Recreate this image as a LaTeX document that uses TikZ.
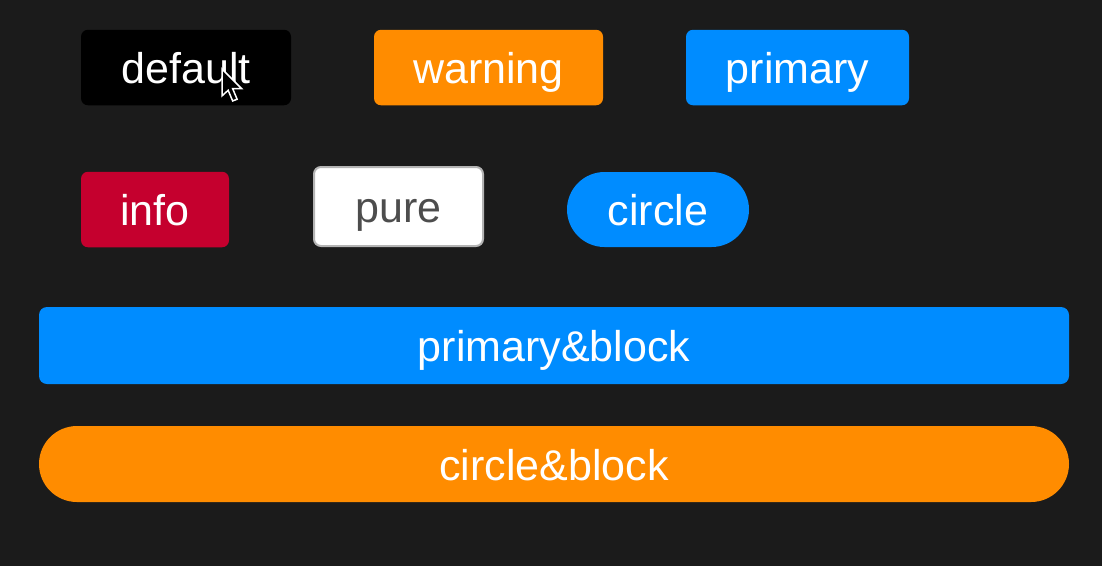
\documentclass[tikz,border=0pt]{standalone}
\usepackage{fontspec}
\setmainfont{Liberation Sans}
\definecolor{bgc}{HTML}{1B1B1B}
\definecolor{orangec}{HTML}{FF8C00}
\definecolor{bluec}{HTML}{008CFF}
\definecolor{redc}{HTML}{C5002E}
\definecolor{pureborder}{HTML}{B4B4B4}
\definecolor{puretext}{HTML}{4D4D4D}
\tikzset{
  btn/.style={draw=none, inner sep=0pt, rounded corners=7pt, text=white,
    font=\fontsize{43}{50}\selectfont, text height=32pt, text depth=0pt,
    minimum height=75.5pt},
  pill/.style={btn, rounded corners=37.5pt},
}
\begin{document}
\begin{tikzpicture}[x=1pt,y=-1pt]
\fill[bgc] (0,0) rectangle (1102,566);
\useasboundingbox (0,0) rectangle (1102,566);
% row 1
\node[btn, fill=black, minimum width=210pt] (default) at (186,67.5) {default};
\node[btn, fill=orangec, minimum width=229pt] (warning) at (488.5,67.5) {warning};
\node[btn, fill=bluec, minimum width=223pt] (primary) at (797.5,67.5) {primary};
% row 2
\node[btn, fill=redc, minimum width=148pt] (info) at (155,209.5) {info};
\node[btn, fill=white, draw=pureborder, line width=2pt, text=puretext,
  minimum width=169pt, minimum height=79pt] (pure) at (398.5,206.5) {pure};
\node[pill, fill=bluec, minimum width=182pt, minimum height=75pt] (circle) at (658,209.5) {circle};
% row 3
\node[btn, fill=bluec, rounded corners=8pt, minimum width=1030pt, minimum height=77pt] (pblock) at (554,345.5) {primary\&block};
% row 4
\node[pill, fill=orangec, minimum width=1030pt, minimum height=76pt, rounded corners=38pt] (cblock) at (554,464) {circle\&block};
% mouse cursor
\coordinate (tip) at (222,69);
\filldraw[fill=black, draw=white, line width=1.5pt, line join=miter, shift={(tip)}, scale=1.12]
  (0,0) -- (0,24) -- (5.5,19) -- (9.5,28.5) -- (13.5,27) -- (9.5,17.5) -- (17.5,17.5) -- cycle;
\end{tikzpicture}
\end{document}
